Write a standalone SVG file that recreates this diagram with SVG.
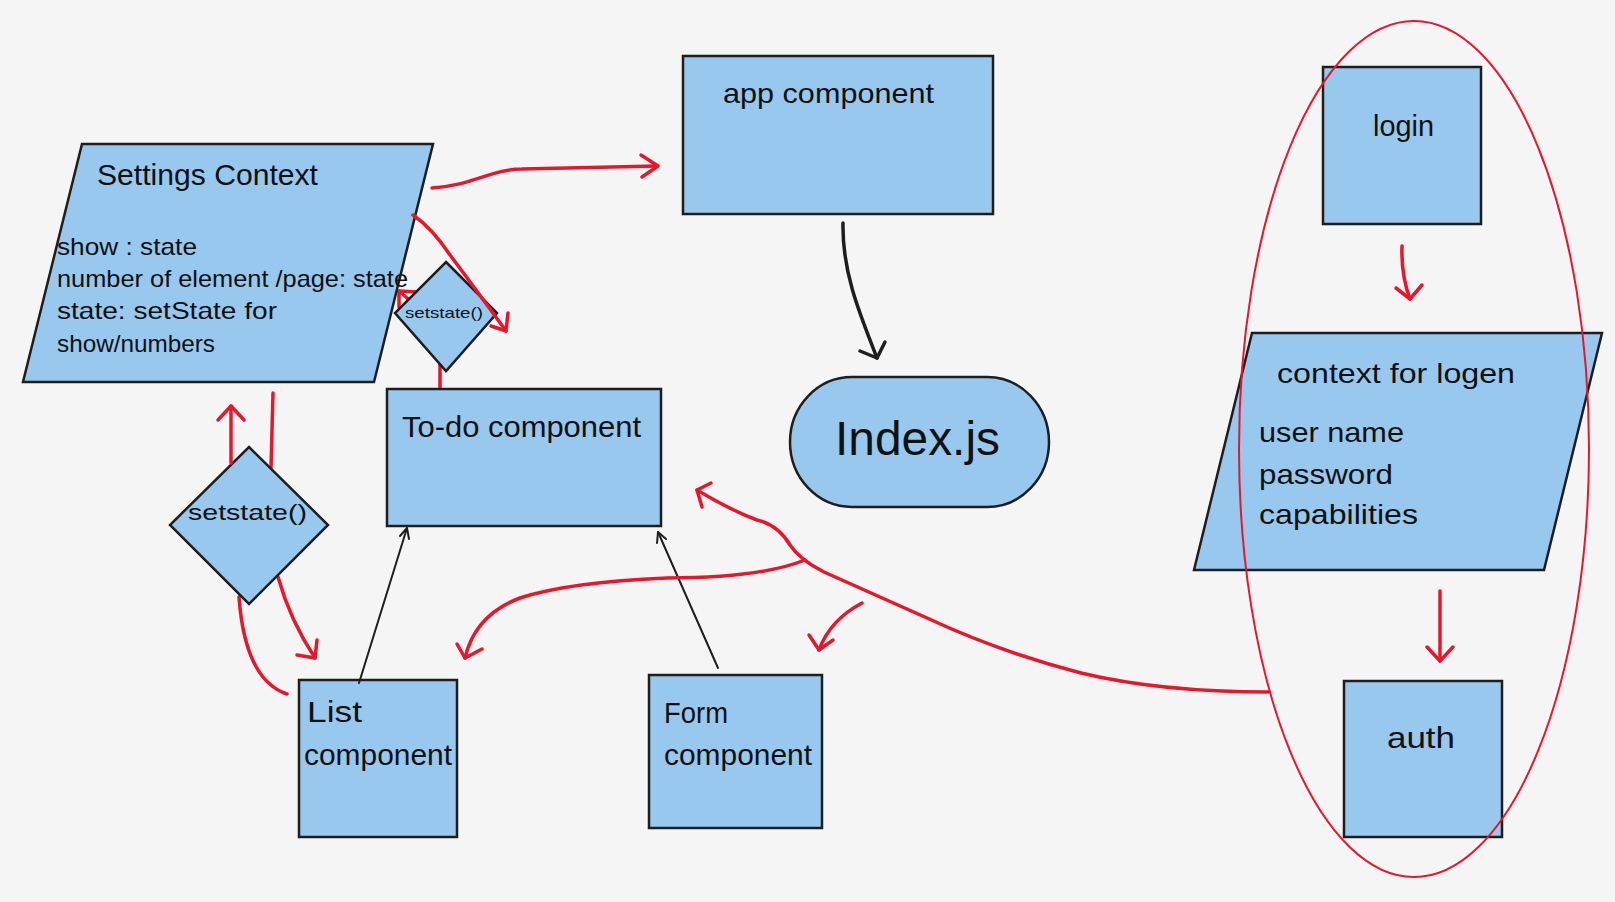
<svg xmlns="http://www.w3.org/2000/svg" width="1615" height="902" viewBox="0 0 1615 902">
<style>
.node{fill:#99c8ee;stroke:#1e1e1e;stroke-width:2.5}
.t{font-family:"Liberation Sans",Arial,sans-serif;fill:#111}
.red{fill:none;stroke:#e5172d;stroke-width:3.5;stroke-linecap:round;stroke-linejoin:round}
.blk{fill:none;stroke:#1e1e1e;stroke-width:2;stroke-linecap:round;stroke-linejoin:round}
</style>
<rect width="1615" height="902" fill="#f5f5f5"/>

<g id="connectors-under">
<path class="red" d="M440,387 L440,352 Q432,318 399,291"/>
<polyline class="red" points="417,292 399,291 399,307"/>
<path class="red" d="M273,393 L271,468"/>
<path class="red" d="M239,597 Q245,680 287,694"/>
<path class="red" d="M278,577 Q290,620 315,658"/>
</g>

<g id="settings-context">
<polygon class="node" points="82,144 433,144 374,382 23,382"/>
<text class="t" x="97" y="185" font-size="29" textLength="221" lengthAdjust="spacingAndGlyphs">Settings Context</text>
<text class="t" x="57" y="255" font-size="24" textLength="140" lengthAdjust="spacingAndGlyphs">show : state</text>
<text class="t" x="57" y="287" font-size="24" textLength="351" lengthAdjust="spacingAndGlyphs">number of element /page: state</text>
<text class="t" x="57" y="319" font-size="24" textLength="220" lengthAdjust="spacingAndGlyphs">state: setState for</text>
<text class="t" x="57" y="352" font-size="24" textLength="158" lengthAdjust="spacingAndGlyphs">show/numbers</text>
</g>

<g id="setstate-small">
<polygon class="node" points="446,262 497,313 446,371 395,313"/>
<text class="t" x="405" y="318" font-size="15" textLength="78" lengthAdjust="spacingAndGlyphs">setstate()</text>
</g>

<g id="setstate-big">
<polygon class="node" points="249,447 328,525 249,604 170,525"/>
<text class="t" x="188" y="520" font-size="22" textLength="119" lengthAdjust="spacingAndGlyphs">setstate()</text>
</g>

<g id="app-component">
<rect class="node" x="683" y="56" width="310" height="158"/>
<text class="t" x="723" y="103" font-size="28" textLength="211" lengthAdjust="spacingAndGlyphs">app component</text>
</g>

<g id="index-js">
<rect class="node" x="790" y="377" width="259" height="130" rx="62" ry="65"/>
<text class="t" x="835" y="455" font-size="48" textLength="165" lengthAdjust="spacingAndGlyphs">Index.js</text>
</g>

<g id="todo-component">
<rect class="node" x="387" y="389" width="274" height="137"/>
<text class="t" x="402" y="437" font-size="30" textLength="239" lengthAdjust="spacingAndGlyphs">To-do component</text>
</g>

<g id="list-component">
<rect class="node" x="299" y="680" width="158" height="157"/>
<text class="t" x="307" y="722" font-size="30" textLength="55" lengthAdjust="spacingAndGlyphs">List</text>
<text class="t" x="304" y="765" font-size="30" textLength="148" lengthAdjust="spacingAndGlyphs">component</text>
</g>

<g id="form-component">
<rect class="node" x="649" y="675" width="173" height="153"/>
<text class="t" x="664" y="723" font-size="30" textLength="64" lengthAdjust="spacingAndGlyphs">Form</text>
<text class="t" x="664" y="765" font-size="30" textLength="148" lengthAdjust="spacingAndGlyphs">component</text>
</g>

<g id="login">
<rect class="node" x="1323" y="67" width="158" height="157"/>
<text class="t" x="1373" y="136" font-size="30" textLength="61" lengthAdjust="spacingAndGlyphs">login</text>
</g>

<g id="context-for-logen">
<polygon class="node" points="1252,333 1602,333 1544,570 1194,570"/>
<text class="t" x="1277" y="383" font-size="28" textLength="238" lengthAdjust="spacingAndGlyphs">context for logen</text>
<text class="t" x="1259" y="442" font-size="28" textLength="145" lengthAdjust="spacingAndGlyphs">user name</text>
<text class="t" x="1259" y="484" font-size="28" textLength="134" lengthAdjust="spacingAndGlyphs">password</text>
<text class="t" x="1259" y="524" font-size="28" textLength="159" lengthAdjust="spacingAndGlyphs">capabilities</text>
</g>

<g id="auth">
<rect class="node" x="1344" y="681" width="158" height="156"/>
<text class="t" x="1387" y="748" font-size="30" textLength="68" lengthAdjust="spacingAndGlyphs">auth</text>
</g>

<g id="connectors">
<!-- settings -> app -->
<path class="red" d="M432,188 C470,186 492,169 522,169 L657,166"/>
<polyline class="red" points="641,155 658,166 642,177"/>
<!-- settings -> small diamond -->
<path class="red" d="M413,215 Q432,228 450,255 Q480,295 506,331"/>
<polyline class="red" points="491,326 506,331 508,313"/>
<!-- big diamond up -->
<path class="red" d="M231,463 L231,406"/>
<polyline class="red" points="218,420 231,406 244,420"/>
<!-- big diamond down arrowhead -->
<polyline class="red" points="297,655 315,658 317,640"/>
<!-- black arrows -->
<path class="blk" d="M359,683 L407,528"/>
<polyline class="blk" points="400,536 407,528 409,539"/>
<path class="blk" d="M718,668 L658,532"/>
<polyline class="blk" points="657,543 658,532 666,539"/>
<path class="blk" style="stroke-width:3.5" d="M843,223 C842,270 858,310 877,358"/>
<polyline class="blk" style="stroke-width:3.5" points="860,351 877,358 885,342"/>
<!-- middle red curves -->
<path class="red" d="M805,560 Q760,578 667,578 Q569,582 520,598 Q475,615 465,658"/>
<polyline class="red" points="457,644 465,658 482,649"/>
<path class="red" d="M862,603 Q830,620 819,650"/>
<polyline class="red" points="809,635 819,650 833,640"/>
<path class="red" d="M1269,692 Q1160,692 1081,673 Q1000,652 927,618 Q860,588 824,572 Q800,560 790,545 Q778,525 757,520 Q730,510 697,490"/>
<polyline class="red" points="711,483 697,490 702,507"/>
<!-- login -> context -->
<path class="red" d="M1402,246 Q1401,275 1410,299"/>
<polyline class="red" points="1396,288 1410,299 1422,285"/>
<!-- context -> auth -->
<path class="red" d="M1440,591 L1440,661"/>
<polyline class="red" points="1427,647 1440,661 1453,647"/>
</g>

<g id="auth-group-outline">
<ellipse cx="1414" cy="449" rx="175" ry="428" fill="none" stroke="#e5172d" stroke-width="2"/>
</g>
</svg>
